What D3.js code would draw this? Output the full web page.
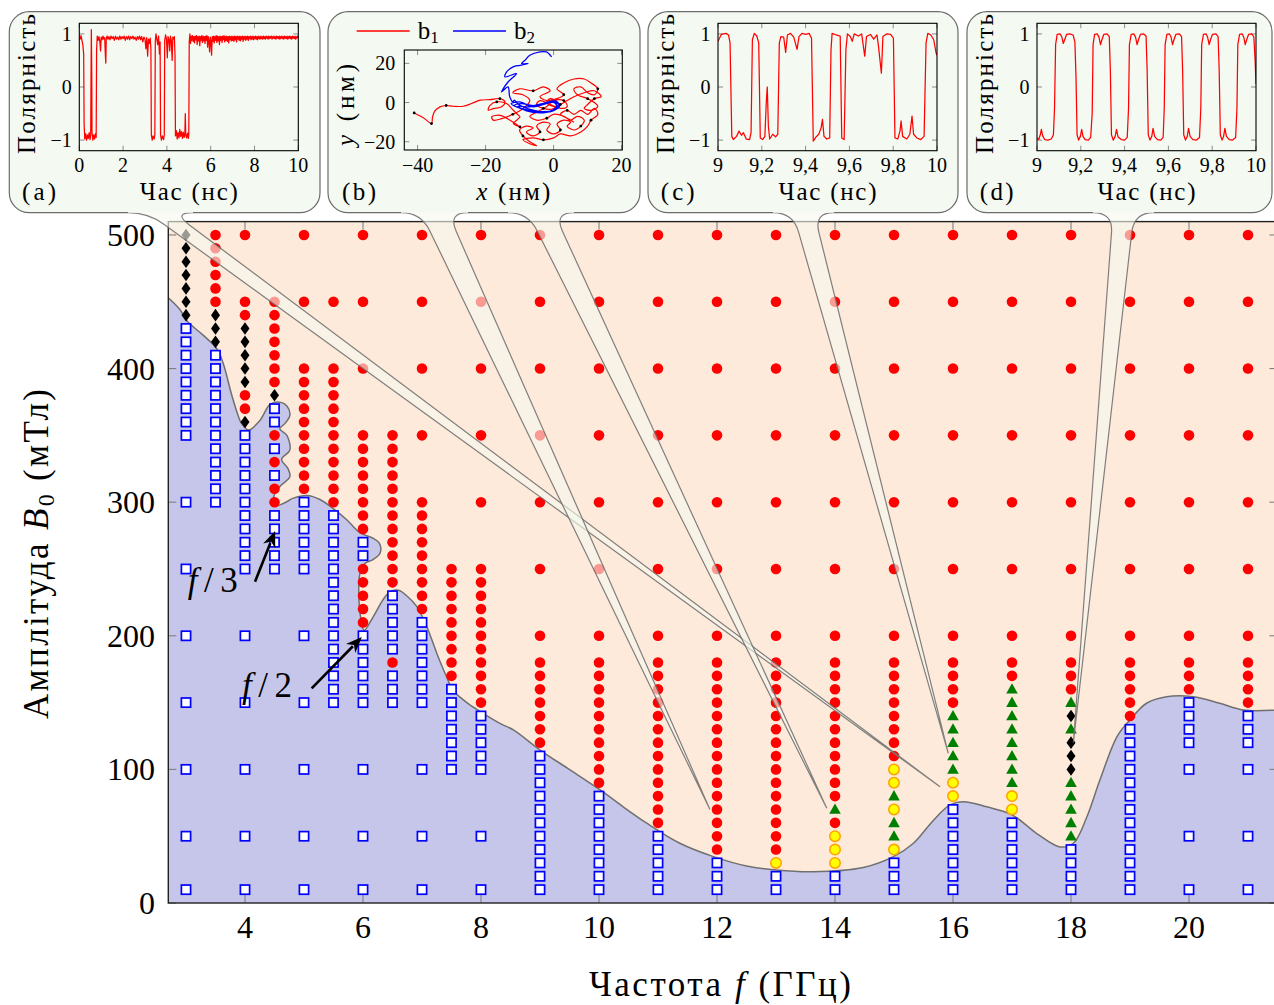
<!DOCTYPE html>
<html><head><meta charset="utf-8"><title>chart</title>
<script src="https://cdn.jsdelivr.net/npm/d3@7/dist/d3.min.js"></script>
<style>html,body{margin:0;padding:0;background:#fff;}svg{display:block;}text{font-family:"Liberation Serif","Times New Roman",serif;fill:#000;}</style>
</head><body>
<svg id="chart" width="1274" height="1005" xmlns="http://www.w3.org/2000/svg"></svg>
<script>
// ---------------- DATA ----------------
const xTicks=[4,6,8,10,12,14,16,18,20];
const yTicks=[0,100,200,300,400,500];

// red filled circles: [frequency, [amplitudes]]
const redPts=[
 [3.5,[500,490,480,470,460,450]],
 [4,[500,450,440,380,370]],
 [4.5,[450,440,430,420,410,400,390,350,330,310,300]],
 [5,[500,450,400,390,380,370,360,350,340,330,320,310]],
 [5.5,[450,400,390,380,370,360,350,340,330,320,310,300]],
 [6,[500,450,400,350,340,330,320,310,300,290,280,250,240,230,220,210]],
 [6.5,[350,340,330,320,310,300,290,280,270,260,250,240,180]],
 [7,[500,450,400,350,300,290,280,270,260,250,240,230,220]],
 [7.5,[250,240,230,220,210,200,190,180,170]],
 [8,[500,450,400,350,300,250,240,230,220,210,200,190,180,170,160,150]],
 [9,[500,450,400,350,300,250,200,180,170,160,150,140,130,120]],
 [10,[500,450,400,350,300,250,200,180,170,160,150,140,130,120,110,100,90]],
 [11,[500,450,400,350,300,250,200,180,170,160,150,140,130,120,110,100,90,80,70,60]],
 [12,[500,450,400,350,300,250,200,180,170,160,150,140,130,120,110,100,90,80,70,60,50,40]],
 [13,[500,450,400,350,300,250,200,180,170,160,150,140,130,120,110,100,90,80,70,60,50,40]],
 [14,[500,450,400,350,300,250,200,180,170,160,150,140,130,120,110,100,90,80,60]],
 [15,[500,450,400,350,300,250,200,180,170,160,150,140,130,120,110]],
 [16,[500,450,400,350,300,250,200,180,170,160,150]],
 [17,[500,450,400,350,300,250,200,180,170]],
 [18,[500,450,400,350,300,250,200,180,170,160]],
 [19,[500,450,400,350,300,250,200,180,170,160,150,140]],
 [20,[500,450,400,350,300,250,200,180,170,160]],
 [21,[500,450,400,350,300,250,200,180,170,160,150]]
];
// blue open squares
const bluePts=[
 [3,[430,420,410,400,390,380,370,360,350,300,250,200,150,100,50,10]],
 [3.5,[410,400,390,380,370,360,350,340,330,320,310,300]],
 [4,[350,340,330,320,310,300,290,280,270,260,250,200,150,100,50,10]],
 [4.5,[370,360,340,320,290,280,270,260,250]],
 [5,[300,290,280,270,260,250,200,150,100,50,10]],
 [5.5,[290,280,270,260,250,240,230,220,210,200,190,180,170,160,150]],
 [6,[270,260,200,190,180,170,160,150,100,50,10]],
 [6.5,[230,220,210,200,190,170,160,150]],
 [7,[210,200,190,180,170,160,150,100,50,10]],
 [7.5,[160,150,140,130,120,110,100]],
 [8,[140,130,120,110,100,50,10]],
 [9,[110,100,90,80,70,60,50,40,30,20,10]],
 [10,[80,70,60,50,40,30,20,10]],
 [11,[50,40,30,20,10]],
 [12,[30,20,10]],
 [13,[20,10]],
 [14,[20,10]],
 [15,[30,20,10]],
 [16,[70,60,50,40,30,20,10]],
 [17,[60,50,40,30,20,10]],
 [18,[40,30,20,10]],
 [19,[130,120,110,100,90,80,70,60,50,40,30,20,10]],
 [20,[150,140,130,120,100,50,10]],
 [21,[140,130,120,100,50,10]]
];
// black diamonds
const blackPts=[
 [3,[500,490,480,470,460,450,440]],
 [3.5,[440,430,420]],
 [4,[430,420,410,400,390,360]],
 [4.5,[380]],
 [18,[140,120,110,100]]
];
// green triangles
const greenPts=[
 [14,[70]],
 [15,[80,60,50]],
 [16,[140,130,120,110,100]],
 [17,[160,150,140,130,120,110,100,90]],
 [18,[150,130,90,80,70,60,50]]
];
// yellow circles
const yellowPts=[
 [13,[30]],
 [14,[50,40,30]],
 [15,[100,90,70,40]],
 [16,[90,80]],
 [17,[80,70]]
];
// boundary between the two regions [f, B0]
const boundary=[[2.7,453],[2.9,444],[3.01,436],[3.29,425],[3.52,415],[3.63,404],[3.77,381],[3.89,364],[3.94,359],[4.06,354],[4.25,361],[4.42,373],[4.56,375],[4.71,372],[4.76,365],[4.68,359],[4.59,355],[4.71,350],[4.76,339],[4.62,332],[4.73,325],[4.76,319],[4.62,313],[4.51,307],[4.48,297],[4.65,299],[4.82,303],[5.05,305],[5.27,302],[5.5,295],[5.72,287],[5.95,277],[6.17,273],[6.28,269],[6.29,262],[6.17,257],[6.03,254],[5.95,247],[5.93,229],[5.98,209],[6.02,204],[6.17,214],[6.34,227],[6.46,233],[6.6,234],[6.74,230],[6.91,222],[7.08,207],[7.25,187],[7.39,172],[7.53,159],[7.76,150],[7.98,143.5],[8.32,134.5],[8.55,129.5],[9.0,114.5],[9.51,99.6],[10.02,84.6],[10.41,72],[10.81,59.7],[11.37,44.7],[11.94,34.7],[12.5,27.7],[13.0,24.7],[13.63,23.4],[14.48,26.6],[14.99,34.7],[15.33,44.7],[15.67,62],[15.95,73.4],[16.18,75.8],[16.57,72],[17.0,66],[17.42,52],[17.81,42],[18.04,44.7],[18.27,64.6],[18.49,92],[18.78,124.5],[19.0,137],[19.28,149.5],[19.62,154.4],[20.07,154.4],[20.52,149.5],[20.92,144.5],[21.5,144.5]];

// inset (a): polarity vs time (ns)
const polA=[[0,0.95],[0.04,0.9],[0.08,0.97],[0.12,0.88],[0.16,0.8],[0.2,0.62],[0.22,-0.7],[0.25,-0.98],[0.29,-0.88],[0.33,-1.0],[0.37,-0.9],[0.41,-0.97],[0.45,-0.86],[0.49,-0.99],[0.52,-0.9],[0.54,0.5],[0.55,1.08],[0.57,0.2],[0.58,-0.85],[0.62,-1.0],[0.66,-0.9],[0.7,-0.98],[0.74,-0.88],[0.77,-0.95],[0.79,0.7],[0.82,0.96],[0.86,0.88],[0.9,0.95],[0.94,0.85],[0.97,0.68],[1.0,0.94],[1.04,0.89],[1.08,0.96],[1.12,0.9],[1.16,0.93],[1.19,0.6],[1.21,0.45],[1.23,0.9],[1.27,0.96],[1.31,0.9],[1.35,0.95],[1.4,0.89],[1.45,0.96],[1.5,0.91],[1.55,0.95],[1.6,0.88],[1.65,0.96],[1.7,0.9],[1.75,0.94],[1.8,0.89],[1.85,0.96],[1.9,0.9],[1.95,0.95],[2.0,0.91],[2.05,0.96],[2.1,0.88],[2.15,0.95],[2.2,0.9],[2.25,0.96],[2.3,0.89],[2.35,0.95],[2.4,0.91],[2.45,0.96],[2.5,0.9],[2.55,0.94],[2.6,0.88],[2.65,0.95],[2.7,0.9],[2.75,0.96],[2.8,0.89],[2.85,0.95],[2.9,0.85],[2.95,0.94],[3.0,0.9],[3.04,0.72],[3.08,0.93],[3.12,0.58],[3.16,0.9],[3.2,0.82],[3.24,0.92],[3.27,0.7],[3.29,-0.9],[3.33,-1.0],[3.37,-0.92],[3.42,-0.98],[3.45,-0.9],[3.47,0.85],[3.5,1.0],[3.54,0.9],[3.58,0.8],[3.62,0.96],[3.66,0.62],[3.69,0.85],[3.71,-0.9],[3.75,-1.0],[3.8,-0.92],[3.85,-0.99],[3.88,-0.9],[3.9,0.88],[3.94,0.98],[3.98,0.9],[4.02,0.55],[4.05,0.95],[4.09,0.9],[4.13,0.68],[4.16,0.96],[4.2,0.88],[4.24,0.5],[4.27,0.94],[4.31,0.9],[4.34,0.95],[4.37,0.6],[4.39,-0.92],[4.43,-0.82],[4.47,-0.98],[4.51,-0.86],[4.55,-0.96],[4.59,-0.8],[4.63,-0.93],[4.67,-0.84],[4.71,-0.97],[4.75,-0.85],[4.79,-0.95],[4.82,-0.88],[4.84,-0.5],[4.86,-0.9],[4.9,-0.96],[4.94,-0.87],[4.98,-0.97],[5.0,-0.9],[5.02,0.85],[5.05,1.0],[5.08,0.82],[5.11,0.96],[5.14,0.88],[5.17,0.97],[5.2,0.86],[5.23,0.95],[5.26,0.83],[5.29,0.96],[5.32,0.89],[5.35,0.97],[5.38,0.8],[5.41,0.95],[5.44,0.87],[5.47,0.96],[5.5,0.78],[5.53,0.95],[5.56,0.88],[5.59,0.97],[5.62,0.84],[5.65,0.96],[5.68,0.87],[5.71,0.95],[5.74,0.82],[5.77,0.96],[5.8,0.88],[5.83,0.97],[5.86,0.75],[5.89,0.95],[5.92,0.86],[5.95,0.66],[5.98,0.94],[6.01,0.87],[6.04,0.6],[6.07,0.95],[6.1,0.86],[6.13,0.96],[6.16,0.83],[6.19,0.95],[6.22,0.88],[6.25,0.97],[6.28,0.84],[6.31,0.96],[6.34,0.87],[6.37,0.95],[6.4,0.8],[6.43,0.96],[6.46,0.88],[6.49,0.95],[6.52,0.84],[6.55,0.96],[6.58,0.89],[6.61,0.97],[6.64,0.85],[6.67,0.95],[6.7,0.88],[6.73,0.96],[6.76,0.86],[6.79,0.95],[6.82,0.83],[6.85,0.96],[6.88,0.89],[6.91,0.95],[6.94,0.87],[6.97,0.96],[7.0,0.88],[7.03,0.95],[7.06,0.86],[7.09,0.96],[7.12,0.89],[7.15,0.95],[7.18,0.85],[7.21,0.96],[7.24,0.9],[7.27,0.95],[7.3,0.88],[7.33,0.96],[7.36,0.87],[7.39,0.95],[7.42,0.9],[7.45,0.96],[7.48,0.86],[7.51,0.95],[7.54,0.9],[7.57,0.96],[7.6,0.88],[7.63,0.95],[7.66,0.9],[7.69,0.96],[7.72,0.88],[7.75,0.95],[7.78,0.91],[7.81,0.96],[7.84,0.89],[7.87,0.95],[7.9,0.9],[7.93,0.96],[7.96,0.89],[7.99,0.95],[8.02,0.91],[8.05,0.96],[8.08,0.9],[8.11,0.95],[8.14,0.89],[8.17,0.96],[8.2,0.91],[8.23,0.95],[8.26,0.9],[8.29,0.96],[8.32,0.91],[8.35,0.95],[8.38,0.9],[8.41,0.96],[8.44,0.91],[8.47,0.95],[8.5,0.9],[8.53,0.96],[8.56,0.92],[8.59,0.95],[8.62,0.9],[8.65,0.96],[8.68,0.91],[8.71,0.95],[8.74,0.92],[8.77,0.96],[8.8,0.9],[8.83,0.95],[8.86,0.92],[8.89,0.96],[8.92,0.91],[8.95,0.95],[8.98,0.9],[9.01,0.96],[9.04,0.92],[9.07,0.95],[9.1,0.91],[9.13,0.96],[9.16,0.9],[9.19,0.95],[9.22,0.92],[9.25,0.96],[9.28,0.91],[9.31,0.95],[9.34,0.9],[9.37,0.96],[9.4,0.92],[9.43,0.95],[9.46,0.91],[9.49,0.96],[9.52,0.9],[9.55,0.95],[9.58,0.92],[9.61,0.96],[9.64,0.91],[9.67,0.95],[9.7,0.9],[9.73,0.96],[9.76,0.92],[9.79,0.95],[9.82,0.91],[9.85,0.96],[9.88,0.9],[9.91,0.95],[9.94,0.92],[9.97,0.96],[10,0.93]];
// inset (c)
const polC=[[9.0,0.86],[9.015,0.99],[9.037,1.01],[9.048,0.98],[9.055,0.83],[9.063,-0.93],[9.07,-0.99],[9.085,-0.93],[9.096,-0.83],[9.107,-0.91],[9.116,-0.86],[9.129,-0.98],[9.144,-0.99],[9.151,-0.86],[9.157,0.89],[9.166,1.01],[9.177,0.96],[9.186,0.83],[9.193,-0.96],[9.204,-0.99],[9.214,-0.93],[9.221,-0.24],[9.225,0.0],[9.23,-0.74],[9.236,-0.98],[9.25,-0.89],[9.263,-0.94],[9.273,-0.89],[9.28,0.83],[9.287,0.95],[9.3,0.94],[9.309,0.65],[9.317,0.98],[9.331,1.01],[9.346,0.94],[9.361,0.71],[9.37,0.95],[9.383,1.01],[9.401,0.99],[9.416,1.01],[9.427,0.92],[9.435,-1.02],[9.448,-0.94],[9.46,-0.89],[9.471,-0.77],[9.477,-0.61],[9.484,-0.93],[9.497,-0.98],[9.51,-0.96],[9.516,0.7],[9.521,1.01],[9.54,0.98],[9.558,0.96],[9.565,-0.96],[9.576,-0.99],[9.584,0.7],[9.591,1.0],[9.604,0.95],[9.613,0.86],[9.622,1.0],[9.641,0.96],[9.656,1.0],[9.67,0.58],[9.678,0.95],[9.696,0.99],[9.711,0.9],[9.726,0.98],[9.733,0.76],[9.746,0.26],[9.753,0.95],[9.77,1.0],[9.788,0.99],[9.801,0.92],[9.808,-0.96],[9.821,-0.98],[9.831,-0.83],[9.836,-0.64],[9.843,-0.93],[9.862,-0.98],[9.876,-0.89],[9.886,-0.55],[9.893,-0.89],[9.908,-0.96],[9.926,-0.99],[9.941,-0.93],[9.95,0.83],[9.958,1.01],[9.972,0.98],[9.985,0.89],[9.996,0.64],[10,0.6]];
// inset (d)
const polD=[[9.0,-0.96],[9.008,-0.99],[9.015,-0.9],[9.02,-0.8],[9.026,-0.92],[9.035,-0.99],[9.05,-1.0],[9.065,-0.98],[9.075,-0.9],[9.08,-0.4],[9.085,0.8],[9.092,0.99],[9.105,1.0],[9.113,0.95],[9.12,0.82],[9.127,0.9],[9.135,0.99],[9.15,1.0],[9.165,0.98],[9.173,0.85],[9.178,0.2],[9.183,-0.9],[9.19,-1.0],[9.198,-0.93],[9.204,-0.8],[9.21,-0.93],[9.22,-0.99],[9.235,-1.0],[9.245,-0.95],[9.252,-0.5],[9.256,0.8],[9.263,0.99],[9.275,1.0],[9.283,0.94],[9.29,0.8],[9.297,0.9],[9.305,0.99],[9.32,1.0],[9.33,0.95],[9.335,0.3],[9.34,-0.9],[9.348,-1.0],[9.357,-0.93],[9.363,-0.8],[9.37,-0.94],[9.385,-0.99],[9.4,-1.0],[9.412,-0.95],[9.418,-0.4],[9.422,0.8],[9.43,0.99],[9.442,1.0],[9.45,0.94],[9.457,0.8],[9.464,0.9],[9.472,0.99],[9.487,1.0],[9.498,0.96],[9.503,0.3],[9.508,-0.9],[9.516,-1.0],[9.524,-0.93],[9.53,-0.78],[9.537,-0.93],[9.55,-0.99],[9.565,-1.0],[9.576,-0.95],[9.581,-0.4],[9.585,0.8],[9.593,0.99],[9.605,1.0],[9.612,0.94],[9.619,0.8],[9.626,0.9],[9.634,0.99],[9.65,1.0],[9.66,0.95],[9.665,0.3],[9.67,-0.9],[9.678,-1.0],[9.686,-0.93],[9.692,-0.78],[9.699,-0.93],[9.712,-0.99],[9.728,-1.0],[9.742,-0.95],[9.748,-0.4],[9.752,0.8],[9.76,0.99],[9.772,1.0],[9.779,0.94],[9.786,0.8],[9.793,0.9],[9.801,0.99],[9.817,1.0],[9.827,0.95],[9.832,0.3],[9.837,-0.9],[9.845,-1.0],[9.852,-0.93],[9.858,-0.78],[9.865,-0.93],[9.878,-0.99],[9.893,-1.0],[9.907,-0.95],[9.913,-0.4],[9.917,0.8],[9.925,0.99],[9.937,1.0],[9.944,0.94],[9.951,0.8],[9.958,0.9],[9.966,0.99],[9.98,1.0],[9.99,0.95],[9.996,0.5],[10,0.05]];
// inset (b): trajectories (nm)
const trajB1=[[-41.0,-5.3],[-38.3,-7.7],[-35.9,-10.7],[-35.6,-7.3],[-34.9,-4.3],[-33.4,-2.2],[-31.6,-1.5],[-29.5,-1.9],[-26.6,-1.9],[-24.1,-0.5],[-21.6,1.2],[-18.7,1.5],[-15.8,2.0],[-14.3,0.3],[-15.3,-2.2],[-17.7,-3.1],[-19.2,-3.9],[-18.7,-1.4],[-16.7,0.3],[-13.8,-0.5],[-12.3,-3.1],[-10.9,-5.6],[-9.9,-7.3],[-11.8,-10.7],[-9.9,-12.4],[-12.8,-9.0],[-15.8,-6.5],[-18.2,-7.3],[-17.7,-9.0],[-15.3,-8.2],[-12,-6],[-9,-3],[-7,1],[-9,4],[-12,5],[-10,7],[-6,6],[-3,8],[-1,6],[-4,3],[-2,1],[1,2],[3,4],[1,7],[3,10],[6,12],[9,12],[11,10],[13,7],[12,4],[10,5],[8,8],[6,7],[7,4],[10,2],[12,0],[13,-2],[11,-4],[9,-3],[10,-1],[12,2],[14,3],[12,6],[9,5],[6,3],[4,1],[2,-1],[0,-2],[-2,0],[-1,2],[1,0],[0,-3],[-3,-3],[-5,-1],[-4,1],[-1,-1],[2,-3],[4,-2],[3,1],[0,1],[-2,-2],[-5,-5],[-7,-7],[-5,-9],[-2,-8],[0,-6],[3,-7],[5,-9],[7,-7],[9,-9],[8,-12],[6,-14],[4,-12],[5,-10],[3,-9],[1,-11],[2,-14],[0,-16],[-2,-14],[-1,-11],[-3,-10],[-5,-12],[-4,-15],[-6,-17],[-8,-15],[-6,-13],[-8,-12],[-10,-14],[-9,-17],[-7,-20],[-5,-22],[-7,-21],[-9,-19],[-6,-18],[-3,-19],[0,-18],[2,-16],[5,-17],[8,-15],[10,-12],[11,-9],[13,-6],[12,-3],[10,-6],[8,-4],[6,-6],[4,-4],[2,-6],[4,-8],[6,-10]];
const trajB2=[[-0.6,23.3],[-2.1,25.8],[-4.0,25.8],[-7.0,24.1],[-8.4,21.6],[-9.4,19.9],[-7.5,19.9],[-9.9,19.0],[-11.9,18.2],[-13.8,15.6],[-14.3,13.1],[-10.9,14.8],[-13.4,10.5],[-14.8,7.1],[-15.3,5.4],[-13.4,8.0],[-12.9,2.9],[-11.9,0.3],[-11.6,1.2],[-9.9,-1.4],[-6.0,-3.9],[-2.1,-4.8],[0.9,-2.2],[0.4,0.3],[-2.1,-0.5],[-6.0,-2.2],[-9.9,0.3],[-12.5,-0.5],[-10.5,-2.5],[-6.5,-4.3],[-2.5,-5.0],[1.0,-3.0],[1.5,-0.8],[-1.5,0.2],[-5.5,-1.6],[-9.5,-0.6],[-11.5,-1.5],[-8.5,-3.5],[-4,-4.6],[0,-4],[1.8,-1.6],[0.5,0.8],[-3,-0.4],[-7.5,-2.2],[-10.5,-1.8],[-8,-4.2],[-3,-5.2],[0.5,-3.6],[1,-1.5],[0,0]];
const timeTicksA=[0,2,4,6,8,10];
const timeTicksCD=[9,9.2,9.4,9.6,9.8,10];
const polTicks=[-1,0,1];
const bxTicks=[-40,-20,0,20];
const byTicks=[-20,0,20];

// ---------------- DRAW ----------------
const svg=d3.select('#chart');
const defs=svg.append('defs');
const x=d3.scaleLinear().domain([2.7,21.5]).range([168.3,1277.5]);
const y=d3.scaleLinear().domain([0,510]).range([903,221.6]);
const X0=x.range()[0],X1=x.range()[1],Y0=y.range()[0],Y1=y.range()[1];
const fmt=v=>String(v).replace('.',',').replace('-','\u2212');
const FONT='"Liberation Serif","Times New Roman",serif';

defs.append('clipPath').attr('id','plotclip').append('rect').attr('x',X0).attr('y',Y1).attr('width',X1-X0).attr('height',Y0-Y1);
const plot=svg.append('g').attr('clip-path','url(#plotclip)');
plot.append('rect').attr('x',X0).attr('y',Y1).attr('width',X1-X0).attr('height',Y0-Y1).attr('fill','#fdeada');
const bline=d3.line().x(d=>x(d[0])).y(d=>y(d[1])).curve(d3.curveCatmullRom.alpha(0.5));
plot.append('path').attr('d',bline(boundary)+`L${X1+5},${Y0+5}L${X0-5},${Y0+5}Z`).attr('fill','#c5c6e9');
plot.append('path').attr('d',bline(boundary)).attr('fill','none').attr('stroke','#707070').attr('stroke-width',1.5);

// ticks
const axes=svg.append('g').attr('stroke','#808080').attr('stroke-width',1.1);
xTicks.forEach(t=>{
  axes.append('line').attr('x1',x(t)).attr('x2',x(t)).attr('y1',Y0).attr('y2',Y0-8);
  axes.append('line').attr('x1',x(t)).attr('x2',x(t)).attr('y1',Y1).attr('y2',Y1+8);
});
yTicks.forEach(t=>{
  axes.append('line').attr('x1',X0).attr('x2',X0+8).attr('y1',y(t)).attr('y2',y(t));
  axes.append('line').attr('x1',X1-8).attr('x2',X1).attr('y1',y(t)).attr('y2',y(t));
});

// markers
const flat=a=>a.flatMap(([f,bs])=>bs.map(b=>[f,b]));
const mk=svg.append('g').attr('clip-path','url(#plotclip)');
mk.selectAll('rect.sq').data(flat(bluePts)).join('rect').attr('class','sq')
  .attr('x',d=>x(d[0])-4.6).attr('y',d=>y(d[1])-4.6).attr('width',9.2).attr('height',9.2)
  .attr('fill','#fff').attr('stroke','#0000ff').attr('stroke-width',1.7);
mk.selectAll('circle.rc').data(flat(redPts)).join('circle').attr('class','rc')
  .attr('cx',d=>x(d[0])).attr('cy',d=>y(d[1])).attr('r',5.3).attr('fill','#ff0000');
mk.selectAll('path.dm').data(flat(blackPts)).join('path').attr('class','dm')
  .attr('d','M0,-6.3L4.5,0L0,6.3L-4.5,0Z').attr('transform',d=>`translate(${x(d[0])},${y(d[1])})`).attr('fill','#000');
mk.selectAll('path.tr').data(flat(greenPts)).join('path').attr('class','tr')
  .attr('d','M0,-6L5.8,4.3L-5.8,4.3Z').attr('transform',d=>`translate(${x(d[0])},${y(d[1])})`).attr('fill','#008000');
mk.selectAll('circle.yc').data(flat(yellowPts)).join('circle').attr('class','yc')
  .attr('cx',d=>x(d[0])).attr('cy',d=>y(d[1])).attr('r',5.2).attr('fill','#ffff00').attr('stroke','#ffa500').attr('stroke-width',1.6);

// spine
svg.append('rect').attr('x',X0).attr('y',Y1).attr('width',X1-X0).attr('height',Y0-Y1).attr('fill','none').attr('stroke','#222').attr('stroke-width',1.4);

// tick labels
const tl=svg.append('g').attr('font-family',FONT).attr('font-size',32);
xTicks.forEach(t=>tl.append('text').attr('x',x(t)).attr('y',938).attr('text-anchor','middle').text(t));
yTicks.forEach(t=>tl.append('text').attr('x',155).attr('y',y(t)+11).attr('text-anchor','end').text(t));

// axis labels
const xl=svg.append('text').attr('x',720).attr('y',996).attr('text-anchor','middle').attr('font-size',35).attr('textLength',262);
xl.append('tspan').text('Частота ');
xl.append('tspan').attr('font-style','italic').text('f');
xl.append('tspan').text(' (ГГц)');
const yl=svg.append('text').attr('transform','translate(48,554) rotate(-90)').attr('text-anchor','middle').attr('font-size',35).attr('textLength',330);
yl.append('tspan').text('Амплітуда ');
yl.append('tspan').attr('font-style','italic').text('B');
yl.append('tspan').attr('font-size',24).attr('dy',6).text('0');
yl.append('tspan').attr('dy',-6).text(' (мТл)');

// f/3 and f/2 annotations
const notes=[{den:'3',at:[3.03,233],from:[4.17,240.5],to:[4.51,278.4]},{den:'2',at:[3.95,154],from:[5.13,160.7],to:[5.98,199]}];
notes.forEach(n=>{
  const t=svg.append('text').attr('x',x(n.at[0])).attr('y',y(n.at[1])).attr('font-size',35).attr('textLength',50);
  t.append('tspan').attr('font-style','italic').text('f');
  t.append('tspan').text('/'+n.den);
  const ax=x(n.from[0]),ay=y(n.from[1]),bx=x(n.to[0]),by=y(n.to[1]);
  const L=Math.hypot(bx-ax,by-ay),ux=(bx-ax)/L,uy=(by-ay)/L,hl=16,hw=6.5;
  svg.append('line').attr('x1',ax).attr('y1',ay).attr('x2',bx-ux*hl*0.8).attr('y2',by-uy*hl*0.8).attr('stroke','#000').attr('stroke-width',2.6);
  svg.append('path').attr('d',`M${bx},${by}L${bx-ux*hl-uy*hw},${by-uy*hl+ux*hw}L${bx-ux*hl*0.7},${by-uy*hl*0.7}L${bx-ux*hl+uy*hw},${by-uy*hl-ux*hw}Z`).attr('fill','#000');
});

// ---------------- CALLOUTS ----------------
const boxes=[{x0:9.3,x1:320},{x0:328,x1:640},{x0:648,x1:958},{x0:967,x1:1272}];
const BY0=11.7,BY1=212.7,BR=20,FR=20;
const tails=[
 {box:0,tip:[15.78,87],rootL:148,rootR:173},
 {box:1,tip:[11.88,70],rootL:421,rootR:448},
 {box:1,tip:[13.86,71],rootL:528,rootR:554},
 {box:2,tip:[15.92,112],rootL:793,rootR:814},
 {box:3,tip:[18.04,120],rootL:1113,rootR:1134}
];
const BOXFILL='#f4faf2',EDGE='#6b6b6b';
const call=svg.append('g');
tails.forEach(t=>{
  const tp=[x(t.tip[0]),y(t.tip[1])];
  const dir=rx=>{const dx=tp[0]-rx,dy=tp[1]-BY1,l=Math.hypot(dx,dy);return [dx/l,dy/l];};
  const dl=dir(t.rootL),dr=dir(t.rootR);
  t.aL=t.rootL-FR; t.aR=t.rootR+FR;
  const d=`M${t.aL},${BY1}Q${t.rootL},${BY1} ${t.rootL+FR*dl[0]},${BY1+FR*dl[1]}L${tp[0]},${tp[1]}L${t.rootR+FR*dr[0]},${BY1+FR*dr[1]}Q${t.rootR},${BY1} ${t.aR},${BY1}`;
  call.append('path').attr('d',d).attr('fill','#f5f9ee').attr('fill-opacity',0.62).attr('stroke',EDGE).attr('stroke-opacity',0.85).attr('stroke-width',1.2);
});
boxes.forEach((b,i)=>{
  call.append('rect').attr('x',b.x0).attr('y',BY0).attr('width',b.x1-b.x0).attr('height',BY1-BY0).attr('rx',BR).attr('fill',BOXFILL);
  const gaps=tails.filter(t=>t.box===i).sort((a,c)=>c.aL-a.aL);
  let p=`M${b.x0+BR},${BY0}H${b.x1-BR}A${BR},${BR} 0 0 1 ${b.x1},${BY0+BR}V${BY1-BR}A${BR},${BR} 0 0 1 ${b.x1-BR},${BY1}`;
  gaps.forEach(t=>{p+=`H${t.aR}M${t.aL},${BY1}`;});
  p+=`H${b.x0+BR}A${BR},${BR} 0 0 1 ${b.x0},${BY1-BR}V${BY0+BR}A${BR},${BR} 0 0 1 ${b.x0+BR},${BY0}`;
  call.append('path').attr('d',p).attr('fill','none').attr('stroke',EDGE).attr('stroke-width',1.2);
});

// ---------------- INSETS ----------------
const TICKFS=20, LABFS=25, TICKBASE=172, LABBASE=200;
function frame(g,xs,ys,xt,yt,px0,px1,py0,py1){
  const tk=g.append('g').attr('stroke','#8a8a8a').attr('stroke-width',1);
  xt.forEach(v=>{tk.append('line').attr('x1',xs(v)).attr('x2',xs(v)).attr('y1',py1).attr('y2',py1-5);
                 tk.append('line').attr('x1',xs(v)).attr('x2',xs(v)).attr('y1',py0).attr('y2',py0+5);});
  yt.forEach(v=>{tk.append('line').attr('x1',px0).attr('x2',px0+5).attr('y1',ys(v)).attr('y2',ys(v));
                 tk.append('line').attr('x1',px1-5).attr('x2',px1).attr('y1',ys(v)).attr('y2',ys(v));});
}
function polInset(bi,dom,data,xt,tag){
  const b=boxes[bi];
  const px0=b.x0+70,px1=b.x0+289,py0=23.3,py1=150.7;
  const xs=d3.scaleLinear().domain(dom).range([px0,px1]);
  const ys=d3.scaleLinear().domain([-1.2,1.2]).range([py1,py0]);
  const g=svg.append('g');
  defs.append('clipPath').attr('id','cl'+tag).append('rect').attr('x',px0).attr('y',py0).attr('width',px1-px0).attr('height',py1-py0);
  frame(g,xs,ys,xt,polTicks,px0,px1,py0,py1);
  g.append('path').datum(data).attr('clip-path',`url(#cl${tag})`)
    .attr('d',d3.line().x(d=>xs(d[0])).y(d=>ys(d[1])))
    .attr('fill','none').attr('stroke','#ff0000').attr('stroke-width',1.25).attr('stroke-linejoin','round');
  g.append('rect').attr('x',px0).attr('y',py0).attr('width',px1-px0).attr('height',py1-py0).attr('fill','none').attr('stroke','#000').attr('stroke-width',1.1);
  const tg=g.append('g').attr('font-size',TICKFS);
  xt.forEach(v=>tg.append('text').attr('x',xs(v)).attr('y',TICKBASE).attr('text-anchor','middle').text(fmt(v)));
  polTicks.forEach(v=>tg.append('text').attr('x',px0-7.6).attr('y',ys(v)+7).attr('text-anchor','end').text(fmt(v)));
  g.append('text').attr('transform',`translate(${b.x0+26},84) rotate(-90)`).attr('text-anchor','middle').attr('font-size',LABFS).attr('textLength',140).text('Полярність');
  g.append('text').attr('x',(px0+px1)/2).attr('y',LABBASE).attr('text-anchor','middle').attr('font-size',LABFS).attr('textLength',98).text('Час (нс)');
  g.append('text').attr('x',b.x0+12.7).attr('y',LABBASE).attr('font-size',LABFS).attr('textLength',34).text('('+tag+')');
}
polInset(0,[0,10],polA,timeTicksA,'a');
polInset(2,[9,10],polC,timeTicksCD,'c');
polInset(3,[9,10],polD,timeTicksCD,'d');

// inset (b)
(function(){
  const b=boxes[1];
  const px0=404.3,px1=622.3,py0=50,py1=150;
  const xs=d3.scaleLinear().domain([-43.9,20.2]).range([px0,px1]);
  const ys=d3.scaleLinear().domain([-24.2,26.8]).range([py1,py0]);
  const g=svg.append('g');
  defs.append('clipPath').attr('id','clb').append('rect').attr('x',px0).attr('y',py0).attr('width',px1-px0).attr('height',py1-py0);
  frame(g,xs,ys,bxTicks,byTicks,px0,px1,py0,py1);
  const ln=d3.line().x(d=>xs(d[0])).y(d=>ys(d[1])).curve(d3.curveCatmullRom.alpha(0.5));
  const inner=g.append('g').attr('clip-path','url(#clb)');
  inner.append('path').datum(trajB1).attr('d',ln).attr('fill','none').attr('stroke','#ff0000').attr('stroke-width',1.2);
  inner.append('path').datum(trajB2).attr('d',ln).attr('fill','none').attr('stroke','#0000ff').attr('stroke-width',1.3);
  inner.selectAll('circle.bd').data(trajB1.filter((d,i)=>i%6===0||i===2)).join('circle').attr('class','bd')
    .attr('cx',d=>xs(d[0])).attr('cy',d=>ys(d[1])).attr('r',1.4).attr('fill','#000');
  g.append('rect').attr('x',px0).attr('y',py0).attr('width',px1-px0).attr('height',py1-py0).attr('fill','none').attr('stroke','#000').attr('stroke-width',1.1);
  const tg=g.append('g').attr('font-size',TICKFS);
  bxTicks.forEach(v=>tg.append('text').attr('x',xs(v)).attr('y',TICKBASE).attr('text-anchor','middle').text(fmt(v)));
  byTicks.forEach(v=>tg.append('text').attr('x',px0-9).attr('y',ys(v)+7).attr('text-anchor','end').text(fmt(v)));
  const xlab=g.append('text').attr('x',(px0+px1)/2).attr('y',LABBASE).attr('text-anchor','middle').attr('font-size',LABFS).attr('textLength',74);
  xlab.append('tspan').attr('font-style','italic').text('x');
  xlab.append('tspan').text(' (нм)');
  const ylab=g.append('text').attr('transform',`translate(${b.x0+26},105) rotate(-90)`).attr('text-anchor','middle').attr('font-size',LABFS).attr('textLength',82);
  ylab.append('tspan').attr('font-style','italic').text('y');
  ylab.append('tspan').text(' (нм)');
  g.append('text').attr('x',b.x0+14).attr('y',LABBASE).attr('font-size',LABFS).attr('textLength',34).text('(b)');
  // legend
  const leg=[{c:'#ff0000',x:356.7,s:'1'},{c:'#0000ff',x:453,s:'2'}];
  leg.forEach(l=>{
    g.append('line').attr('x1',l.x).attr('x2',l.x+53).attr('y1',31).attr('y2',31).attr('stroke',l.c).attr('stroke-width',1.3);
    const t=g.append('text').attr('x',l.x+61).attr('y',39).attr('font-size',25);
    t.append('tspan').text('b');
    t.append('tspan').attr('font-size',17).attr('dy',4).text(l.s);
  });
})();
</script></body></html>
